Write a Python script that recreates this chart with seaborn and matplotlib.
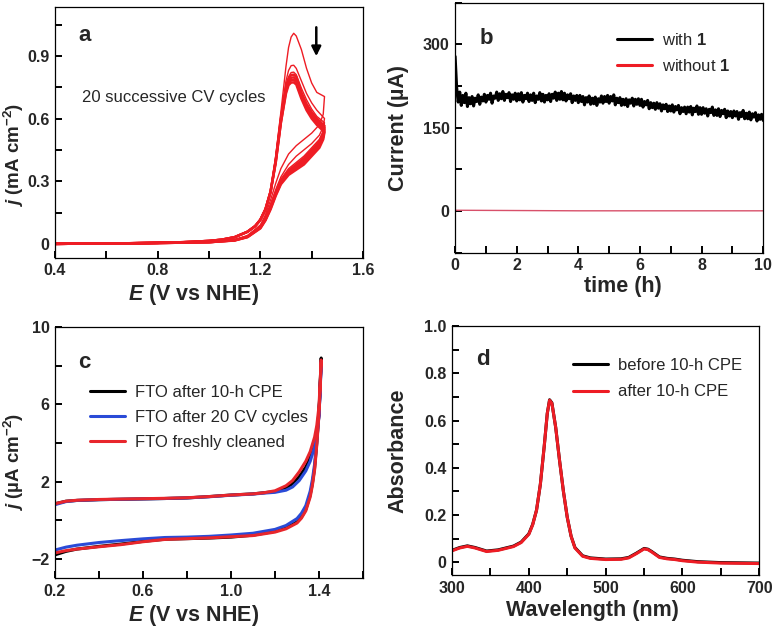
import matplotlib
matplotlib.use("Agg")
import matplotlib.pyplot as plt
import matplotlib.ticker as mticker
import seaborn as sns
from matplotlib.ticker import MultipleLocator

# ---------------------------
# DATA
# ---------------------------

# (a) 20 successive CV cycles
E_fwd_low = [0.40, 0.50, 0.60, 0.70, 0.80, 0.90, 1.00, 1.05, 1.10, 1.15, 1.18, 1.20, 1.22, 1.24]
j_fwd_low = [0.000, 0.001, 0.002, 0.003, 0.005, 0.008, 0.014, 0.020, 0.032, 0.058, 0.085, 0.115, 0.165, 0.25]
E_fwd_high = [1.26, 1.28, 1.30, 1.31, 1.32, 1.33, 1.34, 1.36, 1.38, 1.40, 1.42, 1.45]
E_rev = [1.45, 1.445, 1.43, 1.40, 1.37, 1.34, 1.31, 1.28, 1.26, 1.24, 1.22, 1.20, 1.15, 1.10, 1.00, 0.80, 0.60, 0.40]

cv_fwd_high = {
    "c1": [0.42, 0.63, 0.85, 0.94, 0.99, 1.008, 0.995, 0.93, 0.84, 0.77, 0.725, 0.705],
    "c2": [0.41, 0.61, 0.78, 0.83, 0.853, 0.855, 0.84, 0.78, 0.72, 0.675, 0.64, 0.60],
    "c3": [0.41, 0.60, 0.76, 0.80, 0.82, 0.822, 0.81, 0.745, 0.69, 0.645, 0.61, 0.58],
    "b1": [0.40, 0.60, 0.75, 0.79, 0.808, 0.81, 0.80, 0.725, 0.67, 0.63, 0.60, 0.565],
    "b2": [0.40, 0.59, 0.74, 0.78, 0.795, 0.797, 0.787, 0.715, 0.66, 0.62, 0.59, 0.555],
    "b3": [0.39, 0.58, 0.73, 0.77, 0.783, 0.785, 0.775, 0.705, 0.65, 0.61, 0.58, 0.545],
    "b4": [0.39, 0.58, 0.72, 0.76, 0.772, 0.773, 0.763, 0.695, 0.64, 0.60, 0.57, 0.535],
}
cv_rev = {
    "c1": [0.705, 0.62, 0.57, 0.53, 0.50, 0.47, 0.43, 0.36, 0.29, 0.21, 0.14, 0.09, 0.040, 0.020, 0.009, 0.004, 0.002, 0.000],
    "c2": [0.60, 0.56, 0.52, 0.48, 0.45, 0.42, 0.38, 0.32, 0.26, 0.19, 0.13, 0.085, 0.038, 0.019, 0.009, 0.004, 0.002, 0.000],
    "c3": [0.58, 0.54, 0.50, 0.46, 0.42, 0.39, 0.36, 0.31, 0.25, 0.185, 0.125, 0.082, 0.036, 0.018, 0.008, 0.004, 0.002, 0.000],
    "b1": [0.565, 0.53, 0.49, 0.45, 0.41, 0.38, 0.35, 0.30, 0.245, 0.18, 0.12, 0.080, 0.035, 0.018, 0.008, 0.004, 0.002, 0.000],
    "b2": [0.555, 0.52, 0.48, 0.44, 0.40, 0.37, 0.34, 0.295, 0.24, 0.175, 0.118, 0.078, 0.034, 0.017, 0.008, 0.004, 0.002, 0.000],
    "b3": [0.545, 0.51, 0.47, 0.43, 0.39, 0.36, 0.335, 0.29, 0.235, 0.17, 0.115, 0.076, 0.033, 0.017, 0.008, 0.004, 0.002, 0.000],
    "b4": [0.535, 0.50, 0.46, 0.42, 0.38, 0.355, 0.33, 0.285, 0.23, 0.165, 0.112, 0.074, 0.032, 0.016, 0.008, 0.004, 0.002, 0.000],
}

# (b) controlled potential electrolysis, sampled every 0.05 h
t_step_h = 0.05
i_with = [278, 222, 196, 214, 190, 208, 195, 212, 188, 204,
          193, 206, 189, 203, 197, 209, 192, 205, 198, 210,
          196, 208, 201, 212, 194, 207, 203, 214, 199, 211,
          202, 215, 199, 210, 204, 213, 197, 209, 201, 212,
          198, 211, 200, 213, 196, 208, 202, 212, 197, 209,
          199, 212, 195, 207, 201, 213, 198, 210, 196, 208,
          200, 211, 197, 210, 203, 214, 199, 212, 201, 215,
          200, 212, 198, 209, 202, 211, 195, 207, 199, 208,
          195, 208, 197, 206, 191, 204, 196, 207, 192, 203,
          193, 205, 190, 202, 196, 207, 194, 206, 197, 208,
          194, 206, 198, 209, 191, 203, 195, 204, 190, 201,
          191, 202, 188, 200, 194, 203, 189, 201, 192, 202,
          190, 201, 187, 197, 191, 199, 184, 195, 186, 194,
          183, 195, 185, 193, 180, 191, 184, 192, 179, 189,
          180, 191, 178, 188, 182, 190, 175, 186, 179, 187,
          175, 187, 178, 188, 173, 185, 179, 189, 174, 186,
          174, 186, 176, 184, 171, 183, 177, 187, 172, 182,
          172, 184, 170, 181, 175, 183, 168, 180, 171, 179,
          168, 180, 171, 179, 165, 177, 170, 181, 166, 176,
          166, 178, 164, 175, 169, 177, 162, 173, 165, 174,
          163]
t_with = [round(k * t_step_h, 2) for k in range(len(i_with))]
t_without = [0.0, 2.0, 4.0, 6.0, 8.0, 10.0]
i_without = [1.5, 1.0, 0.5, 0.5, 0.5, 0.5]

# (c) blank FTO electrodes
E_up = [0.20, 0.25, 0.30, 0.40, 0.50, 0.60, 0.70, 0.80, 0.90, 1.00, 1.10,
        1.15, 1.20, 1.25, 1.28, 1.31, 1.34, 1.36, 1.38, 1.39, 1.40, 1.41]
E_down = [1.41, 1.405, 1.40, 1.39, 1.38, 1.37, 1.36, 1.34, 1.32, 1.30, 1.25,
          1.20, 1.10, 1.00, 0.90, 0.80, 0.70, 0.60, 0.50, 0.40, 0.30, 0.25, 0.20]
fto_up = {
    "FTO after 10-h CPE": [0.85, 0.98, 1.02, 1.06, 1.08, 1.10, 1.12, 1.15, 1.22, 1.30, 1.36,
                           1.42, 1.48, 1.65, 1.90, 2.25, 2.75, 3.25, 4.00, 4.60, 5.60, 8.40],
    "FTO after 20 CV cycles": [0.80, 0.96, 1.02, 1.06, 1.08, 1.10, 1.12, 1.15, 1.21, 1.29, 1.35,
                               1.40, 1.44, 1.55, 1.72, 2.05, 2.55, 3.05, 3.80, 4.40, 5.40, 8.20],
    "FTO freshly cleaned": [0.85, 0.98, 1.03, 1.07, 1.09, 1.11, 1.13, 1.16, 1.22, 1.30, 1.36,
                            1.42, 1.52, 1.78, 2.05, 2.50, 3.05, 3.55, 4.30, 4.90, 5.90, 8.30],
}
fto_down = {
    "FTO after 10-h CPE": [8.40, 6.8, 5.6, 4.0, 2.7, 1.9, 1.3, 0.55, 0.15, -0.10, -0.40,
                           -0.58, -0.78, -0.88, -0.93, -0.96, -0.99, -1.10, -1.24, -1.36, -1.50, -1.62, -1.80],
    "FTO after 20 CV cycles": [8.20, 6.6, 5.5, 4.1, 2.9, 2.1, 1.5, 0.75, 0.35, 0.08, -0.28,
                               -0.48, -0.68, -0.77, -0.84, -0.88, -0.90, -0.97, -1.06, -1.16, -1.30, -1.40, -1.55],
    "FTO freshly cleaned": [8.30, 6.7, 5.5, 3.9, 2.6, 1.8, 1.2, 0.48, 0.10, -0.15, -0.45,
                            -0.62, -0.80, -0.86, -0.92, -0.96, -1.00, -1.12, -1.27, -1.38, -1.50, -1.58, -1.70],
}
fto_colors = ["#000000", "#2a4bd7", "#e8262c"]

# (d) UV-vis spectra
wavelength = [300, 310, 320, 330, 345, 360, 370, 380, 390, 400, 405, 410, 415, 420, 424,
              427, 430, 435, 440, 445, 450, 455, 460, 470, 480, 500, 520, 530, 540, 550,
              555, 560, 570, 580, 590, 600, 620, 650, 700]
abs_before = [0.050, 0.062, 0.069, 0.062, 0.047, 0.052, 0.060, 0.068, 0.085, 0.12, 0.16,
              0.22, 0.33, 0.49, 0.63, 0.688, 0.675, 0.57, 0.43, 0.30, 0.19, 0.11, 0.062,
              0.027, 0.018, 0.013, 0.014, 0.020, 0.038, 0.058, 0.055, 0.045, 0.022, 0.016,
              0.013, 0.008, 0.002, -0.002, -0.004]
abs_after = [0.048, 0.060, 0.067, 0.060, 0.045, 0.050, 0.058, 0.066, 0.083, 0.118, 0.158,
             0.22, 0.33, 0.49, 0.63, 0.686, 0.673, 0.57, 0.43, 0.30, 0.19, 0.11, 0.060,
             0.025, 0.016, 0.011, 0.012, 0.018, 0.036, 0.056, 0.053, 0.043, 0.020, 0.014,
             0.011, 0.006, 0.000, -0.004, -0.006]

RED = "#ee1c24"

# ---------------------------
# STYLE
# ---------------------------
sns.set_style("ticks")
plt.rcParams["font.family"] = ["Liberation Sans", "DejaVu Sans"]
plt.rcParams["mathtext.fontset"] = "custom"
plt.rcParams["mathtext.rm"] = "Liberation Sans:bold"
plt.rcParams["mathtext.bf"] = "Liberation Sans:bold"
plt.rcParams["mathtext.it"] = "Liberation Sans:bold:italic"

TICK_FS = 11.5
LABEL_FS = 15.5
YLABEL_FS = 13.5
LETTER_FS = 16
LEG_FS = 12

fig = plt.figure(figsize=(7.74, 6.32), dpi=100)
ax_a = fig.add_axes([0.071, 0.592, 0.398, 0.397])
ax_b = fig.add_axes([0.588, 0.600, 0.398, 0.396])
ax_c = fig.add_axes([0.071, 0.0854, 0.398, 0.397])
ax_d = fig.add_axes([0.584, 0.090, 0.397, 0.394])


def style_axes(ax, xmaj, xmin, ymaj, ymin, xoff=0.0, yoff=0.0):
    ax.xaxis.set_major_locator(MultipleLocator(xmaj, offset=xoff))
    ax.xaxis.set_minor_locator(MultipleLocator(xmin))
    ax.yaxis.set_major_locator(MultipleLocator(ymaj, offset=yoff))
    ax.yaxis.set_minor_locator(MultipleLocator(ymin))
    ax.tick_params(which="both", direction="in", top=False, right=False,
                   length=5, width=1.4, color="black")
    ax.tick_params(which="major", labelsize=TICK_FS, pad=4)
    for lab in ax.get_xticklabels() + ax.get_yticklabels():
        lab.set_fontweight("bold")
    for sp in ax.spines.values():
        sp.set_visible(True)
        sp.set_linewidth(0.9)
        sp.set_color("black")


def zero_fmt(v, p):
    return "0" if abs(v) < 1e-9 else f"{v:.1f}"


def style_legend(ax, anchor, spacing):
    handles, labels = ax.get_legend_handles_labels()
    for h in handles:
        h.set_linewidth(2.2)
    ax.legend(handles, labels, loc="upper left", frameon=False, fontsize=LEG_FS,
              handlelength=2.1, handletextpad=0.6, borderaxespad=0.0,
              bbox_to_anchor=anchor, labelspacing=spacing)


# ---------------------------
# (a)
# ---------------------------
for key in cv_fwd_high:
    E_loop = E_fwd_low + E_fwd_high + E_rev
    j_loop = j_fwd_low + cv_fwd_high[key] + cv_rev[key]
    lw = 1.0 if key.startswith("c") else 1.8
    sns.lineplot(x=E_loop, y=j_loop, sort=False, estimator=None, ax=ax_a,
                 color=RED, lw=lw)
ax_a.set_xlim(0.4, 1.6)
ax_a.set_ylim(-0.067, 1.134)
style_axes(ax_a, 0.4, 0.2, 0.3, 0.15)
ax_a.xaxis.set_major_formatter(mticker.FormatStrFormatter("%.1f"))
ax_a.yaxis.set_major_formatter(mticker.FuncFormatter(zero_fmt))
ax_a.set_xlabel(r"$\mathit{E}$ (V vs NHE)", fontsize=LABEL_FS, fontweight="bold")
ax_a.set_ylabel(r"$\mathit{j}$ (mA cm$^{-2}$)", fontsize=YLABEL_FS, fontweight="bold")
ax_a.xaxis.set_label_coords(0.451, -0.095)
ax_a.yaxis.set_label_coords(-0.094, 0.41)
ax_a.text(0.075, 0.93, "a", transform=ax_a.transAxes, fontsize=LETTER_FS,
          fontweight="bold", va="top")
ax_a.text(0.088, 0.641, "20 successive CV cycles", transform=ax_a.transAxes,
          fontsize=LEG_FS, va="center")
ax_a.annotate("", xy=(1.418, 0.885), xytext=(1.418, 1.05),
              arrowprops=dict(arrowstyle="-|>", color="black", lw=1.8,
                              mutation_scale=14))

# ---------------------------
# (b)
# ---------------------------
sns.lineplot(x=t_with, y=i_with, sort=False, estimator=None, ax=ax_b,
             color="black", lw=0.9, label=r"with $\mathbf{1}$")
sns.lineplot(x=t_without, y=i_without, sort=False, estimator=None, ax=ax_b,
             color="#d8506a", lw=1.0)
ax_b.plot([], [], color=RED, lw=2.2, label=r"without $\mathbf{1}$")
ax_b.set_xlim(0, 10)
ax_b.set_ylim(-75, 375)
style_axes(ax_b, 2, 1, 150, 75)
ax_b.set_xlabel("time (h)", fontsize=LABEL_FS, fontweight="bold")
ax_b.set_ylabel("Current (µA)", fontsize=LABEL_FS, fontweight="bold")
ax_b.xaxis.set_label_coords(0.544, -0.094)
ax_b.yaxis.set_label_coords(-0.150, 0.5)
ax_b.text(0.08, 0.90, "b", transform=ax_b.transAxes, fontsize=LETTER_FS,
          fontweight="bold", va="top")
style_legend(ax_b, (0.504, 0.908), 0.6)

# ---------------------------
# (c)
# ---------------------------
for name, col in zip(fto_up, fto_colors):
    E_loop = E_up + E_down
    j_loop = fto_up[name] + fto_down[name]
    sns.lineplot(x=E_loop, y=j_loop, sort=False, estimator=None, ax=ax_c,
                 color=col, lw=1.3, label=name)
ax_c.set_xlim(0.2, 1.6)
ax_c.set_ylim(-3, 10)
style_axes(ax_c, 0.4, 0.2, 4, 2, xoff=0.2, yoff=2)
ax_c.xaxis.set_major_formatter(mticker.FormatStrFormatter("%.1f"))
ax_c.yaxis.set_major_formatter(mticker.FuncFormatter(
    lambda v, p: f"\u2212{abs(v):.0f}" if v < 0 else f"{v:.0f}"))
ax_c.set_xlabel(r"$\mathit{E}$ (V vs NHE)", fontsize=LABEL_FS, fontweight="bold")
ax_c.set_ylabel(r"$\mathit{j}$ (µA cm$^{-2}$)", fontsize=YLABEL_FS, fontweight="bold")
ax_c.xaxis.set_label_coords(0.451, -0.098)
ax_c.yaxis.set_label_coords(-0.094, 0.462)
ax_c.text(0.075, 0.90, "c", transform=ax_c.transAxes, fontsize=LETTER_FS,
          fontweight="bold", va="top")
style_legend(ax_c, (0.091, 0.795), 0.58)

# ---------------------------
# (d)
# ---------------------------
sns.lineplot(x=wavelength, y=abs_before, sort=False, estimator=None, ax=ax_d,
             color="black", lw=2.6, label="before 10-h CPE")
sns.lineplot(x=wavelength, y=abs_after, sort=False, estimator=None, ax=ax_d,
             color=RED, lw=1.6, label="after 10-h CPE")
ax_d.set_xlim(300, 700)
ax_d.set_ylim(-0.055, 1.0)
style_axes(ax_d, 100, 50, 0.2, 0.1)
ax_d.yaxis.set_major_formatter(mticker.FuncFormatter(zero_fmt))
ax_d.set_xlabel("Wavelength (nm)", fontsize=LABEL_FS, fontweight="bold")
ax_d.set_ylabel("Absorbance", fontsize=LABEL_FS, fontweight="bold")
ax_d.xaxis.set_label_coords(0.456, -0.098)
ax_d.yaxis.set_label_coords(-0.143, 0.5)
ax_d.text(0.08, 0.91, "d", transform=ax_d.transAxes, fontsize=LETTER_FS,
          fontweight="bold", va="top")
style_legend(ax_d, (0.371, 0.90), 0.7)

fig.savefig("out.png", dpi=100)
